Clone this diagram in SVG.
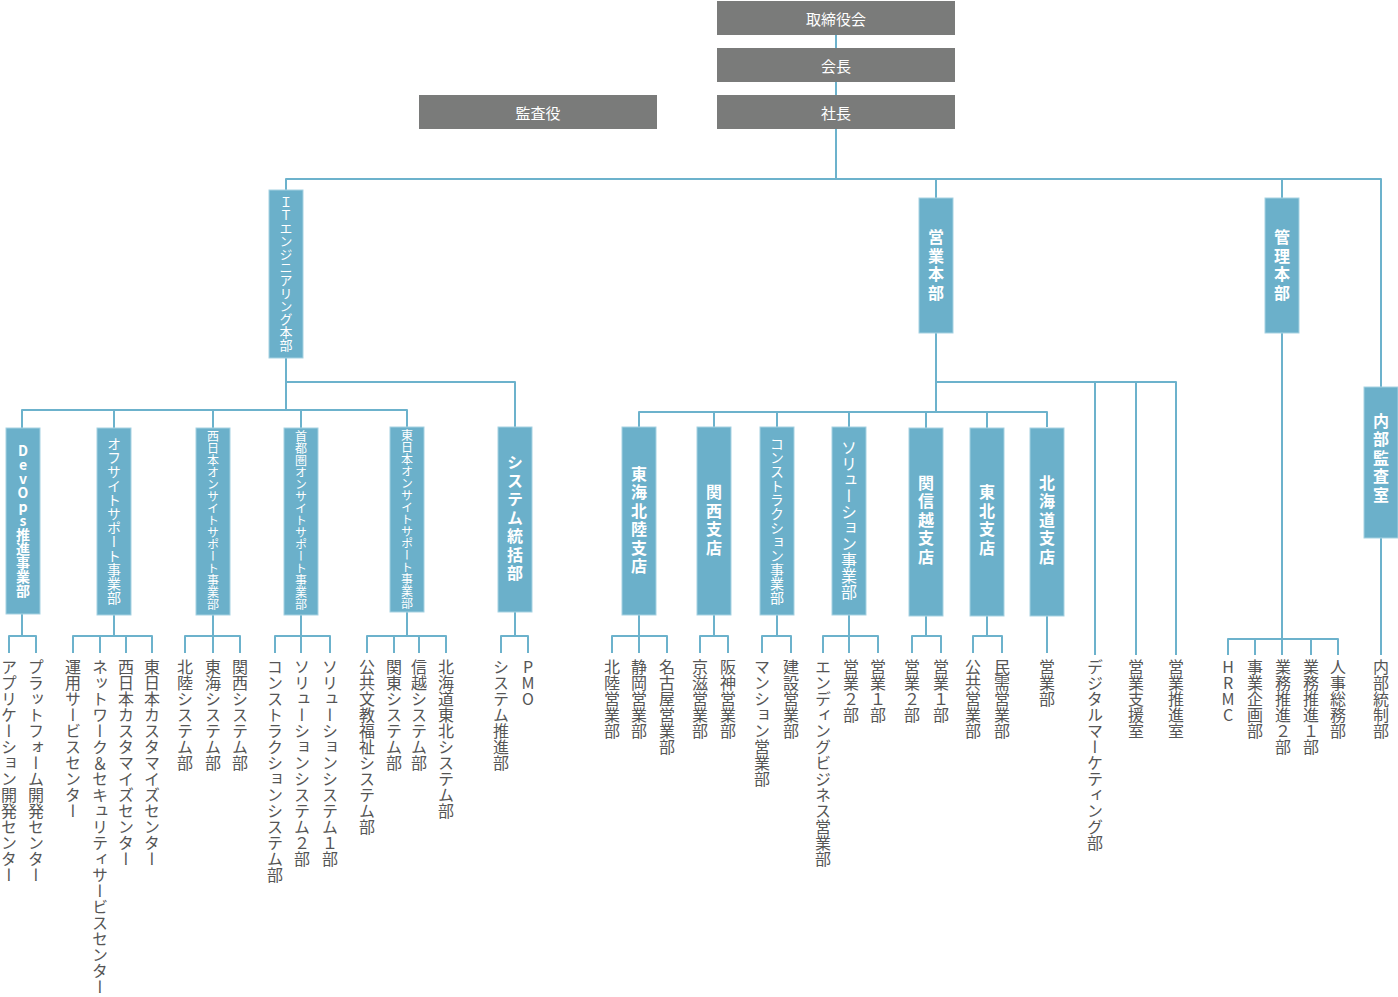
<svg xmlns="http://www.w3.org/2000/svg" width="1398" height="997" viewBox="0 0 1398 997">
<style>
.gbox{fill:#7a7b7a}
.box{fill:#6bb0ca;stroke:#a6d2e2;stroke-width:1}
.conn{fill:none;stroke:#6cb2cc;stroke-width:2;stroke-linejoin:round}
text{font-family:"Noto Sans CJK JP","Noto Sans",sans-serif}
.gt{fill:#fff;font-size:15px;text-anchor:middle;dominant-baseline:central}
.vt{writing-mode:vertical-rl;text-orientation:upright}
.nt{fill:#fff;text-anchor:middle}
.big{font-size:16px;letter-spacing:2.5px;font-weight:bold}
.lb{fill:#555;font-size:16px}
</style>
<rect width="1398" height="997" fill="#fff"/>
<g id="connectors" class="conn">
<path d="M836 35V48M836 82V95M836 129V179"/>
<path d="M286 190V179H1381V387"/>
<path d="M936 179V198M1282 179V198"/>
<path d="M286 358V410M22 428V410H407V427M114 410V428M213 410V428M301 410V428"/>
<path d="M286 382H515V427"/>
<path d="M22 614V636M9 653V636H36V653"/>
<path d="M114 615V636M73 653V636H152V653M100 636V653M126 636V653"/>
<path d="M213 615V653M185 653V636H240V653"/>
<path d="M301 615V653M275 653V636H330V653"/>
<path d="M407 612V636M367 653V636H446V653M394 636V653M419 636V653"/>
<path d="M515 612V636M501 653V636H528V653"/>
<path d="M936 333V412M639 427V412H1047V427M714 412V427M777 412V427M849 412V427M926 412V428M987 412V428"/>
<path d="M936 382H1176V655M1095 382V655M1136 382V655"/>
<path d="M639 615V653M612 653V636H667V653"/>
<path d="M714 615V636M700 653V636H728V653"/>
<path d="M777 615V636M762 653V636H791V653"/>
<path d="M849 615V653M823 653V636H878V653"/>
<path d="M926 616V636M912 653V636H941V653"/>
<path d="M987 616V636M973 653V636H1002V653"/>
<path d="M1047 616V653"/>
<path d="M1282 333V655M1228 655V639H1338V655M1255 639V655M1311 639V655"/>
<path d="M1381 538V655"/>
</g>
<g id="n-torishimariyakukai"><rect class="gbox" x="717" y="1" width="238" height="34"/><text class="gt" x="836" y="18">取締役会</text></g>
<g id="n-kaicho"><rect class="gbox" x="717" y="48" width="238" height="34"/><text class="gt" x="836" y="65">会長</text></g>
<g id="n-shacho"><rect class="gbox" x="717" y="95" width="238" height="34"/><text class="gt" x="836" y="112">社長</text></g>
<g id="n-kansayaku"><rect class="gbox" x="419" y="95" width="238" height="34"/><text class="gt" x="538" y="112">監査役</text></g>

<g id="n-it"><rect class="box" x="269" y="190" width="34" height="168"/><text class="vt nt" x="286" y="274" font-size="13">ＩＴエンジニアリング本部</text></g>
<g id="n-eigyo"><rect class="box" x="919" y="198" width="34" height="135"/><text class="vt nt big" x="936" y="266">営業本部</text></g>
<g id="n-kanri"><rect class="box" x="1265" y="198" width="34" height="135"/><text class="vt nt big" x="1282" y="266">管理本部</text></g>
<g id="n-naibukansa"><rect class="box" x="1364" y="387" width="34" height="151"/><text class="vt nt big" x="1381" y="459">内部監査室</text></g>

<g id="n-devops"><rect class="box" x="6" y="428" width="34" height="186"/><text class="vt nt" x="23" y="521" font-size="14" font-weight="bold">DevOps推進事業部</text></g>
<g id="n-offsite"><rect class="box" x="97" y="428" width="34" height="187"/><text class="vt nt" x="114" y="521" font-size="14">オフサイトサポート事業部</text></g>
<g id="n-nishinihon"><rect class="box" x="196" y="428" width="34" height="187"/><text class="vt nt" x="213" y="520" font-size="12">西日本オンサイトサポート事業部</text></g>
<g id="n-shutoken"><rect class="box" x="284" y="428" width="34" height="187"/><text class="vt nt" x="301" y="520" font-size="12">首都圏オンサイトサポート事業部</text></g>
<g id="n-higashinihon"><rect class="box" x="390" y="427" width="34" height="185"/><text class="vt nt" x="407" y="519" font-size="12">東日本オンサイトサポート事業部</text></g>
<g id="n-system"><rect class="box" x="498" y="427" width="34" height="185"/><text class="vt nt big" x="515" y="519">システム統括部</text></g>

<g id="n-tokaihokuriku"><rect class="box" x="622" y="427" width="34" height="188"/><text class="vt nt big" x="639" y="521">東海北陸支店</text></g>
<g id="n-kansai"><rect class="box" x="697" y="427" width="34" height="188"/><text class="vt nt big" x="714" y="521">関西支店</text></g>
<g id="n-construction"><rect class="box" x="760" y="427" width="34" height="188"/><text class="vt nt" x="777" y="521" font-size="14">コンストラクション事業部</text></g>
<g id="n-solution"><rect class="box" x="832" y="427" width="34" height="188"/><text class="vt nt" x="849" y="520" font-size="16">ソリューション事業部</text></g>
<g id="n-kanshinetsu"><rect class="box" x="909" y="428" width="34" height="188"/><text class="vt nt big" x="926" y="521">関信越支店</text></g>
<g id="n-tohoku"><rect class="box" x="970" y="428" width="34" height="188"/><text class="vt nt big" x="987" y="521">東北支店</text></g>
<g id="n-hokkaido"><rect class="box" x="1030" y="428" width="34" height="188"/><text class="vt nt big" x="1047" y="521">北海道支店</text></g>

<g id="leaves" class="lb">
<text class="vt" x="9" y="659">アプリケーション開発センター</text>
<text class="vt" x="36" y="659">プラットフォーム開発センター</text>
<text class="vt" x="73" y="659">運用サービスセンター</text>
<text class="vt" x="100" y="659">ネットワーク＆セキュリティサービスセンター</text>
<text class="vt" x="126" y="659">西日本カスタマイズセンター</text>
<text class="vt" x="152" y="659">東日本カスタマイズセンター</text>
<text class="vt" x="185" y="659">北陸システム部</text>
<text class="vt" x="213" y="659">東海システム部</text>
<text class="vt" x="240" y="659">関西システム部</text>
<text class="vt" x="275" y="659">コンストラクションシステム部</text>
<text class="vt" x="302" y="659">ソリューションシステム２部</text>
<text class="vt" x="330" y="659">ソリューションシステム１部</text>
<text class="vt" x="367" y="659">公共文教福祉システム部</text>
<text class="vt" x="394" y="659">関東システム部</text>
<text class="vt" x="419" y="659">信越システム部</text>
<text class="vt" x="446" y="659">北海道東北システム部</text>
<text class="vt" x="501" y="659">システム推進部</text>
<text class="vt" x="528" y="659">PMO</text>
<text class="vt" x="612" y="659">北陸営業部</text>
<text class="vt" x="639" y="659">静岡営業部</text>
<text class="vt" x="667" y="659">名古屋営業部</text>
<text class="vt" x="700" y="659">京滋営業部</text>
<text class="vt" x="728" y="659">阪神営業部</text>
<text class="vt" x="762" y="659">マンション営業部</text>
<text class="vt" x="791" y="659">建設営業部</text>
<text class="vt" x="823" y="659">エンディングビジネス営業部</text>
<text class="vt" x="851" y="659">営業２部</text>
<text class="vt" x="878" y="659">営業１部</text>
<text class="vt" x="912" y="659">営業２部</text>
<text class="vt" x="941" y="659">営業１部</text>
<text class="vt" x="973" y="659">公共営業部</text>
<text class="vt" x="1002" y="659">民需営業部</text>
<text class="vt" x="1047" y="659">営業部</text>
<text class="vt" x="1095" y="659">デジタルマーケティング部</text>
<text class="vt" x="1136" y="659">営業支援室</text>
<text class="vt" x="1176" y="659">営業推進室</text>
<text class="vt" x="1228" y="659">HRMC</text>
<text class="vt" x="1255" y="659">事業企画部</text>
<text class="vt" x="1283" y="659">業務推進２部</text>
<text class="vt" x="1311" y="659">業務推進１部</text>
<text class="vt" x="1338" y="659">人事総務部</text>
<text class="vt" x="1381" y="659">内部統制部</text>
</g>
</svg>
